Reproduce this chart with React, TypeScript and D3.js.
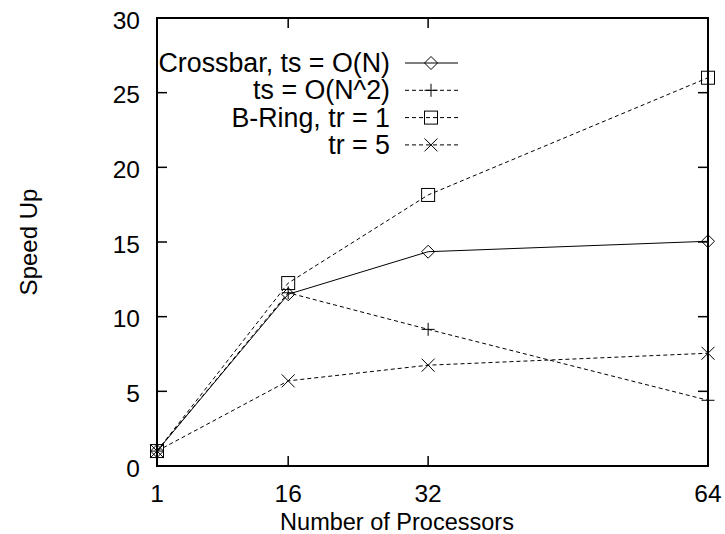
import * as d3 from "d3";

const processors = [1, 16, 32, 64];
const crossbarLinear = [1, 11.5, 14.35, 15.05];
const crossbarSquare = [1, 11.6, 9.15, 4.4];
const ringTr1 = [1, 12.25, 18.15, 26.0];
const ringTr5 = [1, 5.7, 6.75, 7.55];
const yTickValues = [0, 5, 10, 15, 20, 25, 30];
const seriesNames = ["Crossbar, ts = O(N)", "ts = O(N^2)", "B-Ring, tr = 1", "tr = 5"];

const width = 725,
  height = 534,
  left = 157,
  right = 708,
  top = 18,
  bottom = 466,
  tickLen = 10,
  font = "'Liberation Sans', Arial, Helvetica, sans-serif";

function Marker({ kind, x, y }: { kind: string; x: number; y: number }) {
  const s = 6.5;
  if (kind === "diamond")
    return (
      <path
        d={`M${x - s},${y}L${x},${y - s}L${x + s},${y}L${x},${y + s}Z`}
        fill="none"
        stroke="black"
        strokeWidth={1}
      />
    );
  if (kind === "plus")
    return (
      <path
        d={`M${x - s},${y}H${x + s}M${x},${y - s}V${y + s}`}
        stroke="black"
        strokeWidth={1}
      />
    );
  if (kind === "box")
    return (
      <rect
        x={x - s}
        y={y - s}
        width={2 * s}
        height={2 * s}
        fill="none"
        stroke="black"
        strokeWidth={1}
      />
    );
  return (
    <path
      d={`M${x - s},${y - s}L${x + s},${y + s}M${x - s},${y + s}L${x + s},${y - s}`}
      stroke="black"
      strokeWidth={1}
    />
  );
}

export default function App() {
  const xScale = d3.scaleLinear().domain([1, 64]).range([left, right]);
  const yScale = d3.scaleLinear().domain([0, 30]).range([bottom, top]);

  const series = [
    { name: seriesNames[0], values: crossbarLinear, marker: "diamond", dash: "none" },
    { name: seriesNames[1], values: crossbarSquare, marker: "plus", dash: "4,3" },
    { name: seriesNames[2], values: ringTr1, marker: "box", dash: "4,3" },
    { name: seriesNames[3], values: ringTr5, marker: "cross", dash: "4,3" },
  ];

  const line = d3
    .line<number>()
    .x((_, i) => xScale(processors[i]))
    .y((d) => yScale(d));

  const legendTextX = 390,
    legendLineX1 = 405,
    legendLineX2 = 458,
    legendMarkerX = 431,
    legendY0 = 63,
    legendStep = 27.3;

  return (
    <svg width={width} height={height} style={{ position: "absolute", left: 0, top: 0 }}>
      <rect width={width} height={height} fill="white" />
      {/* ticks */}
      {yTickValues.map((t) => (
        <g key={"y" + t}>
          <line x1={left} x2={left + tickLen} y1={yScale(t)} y2={yScale(t)} stroke="black" strokeWidth={1.5} />
          <line x1={right} x2={right - tickLen} y1={yScale(t)} y2={yScale(t)} stroke="black" strokeWidth={1.5} />
          <text
            x={140}
            y={yScale(t) + 2}
            textAnchor="end"
            dominantBaseline="central"
            fontFamily={font}
            fontSize={24.5}
          >
            {t}
          </text>
        </g>
      ))}
      {processors.map((p) => (
        <g key={"x" + p}>
          <line x1={xScale(p)} x2={xScale(p)} y1={bottom} y2={bottom - tickLen} stroke="black" strokeWidth={1.5} />
          <line x1={xScale(p)} x2={xScale(p)} y1={top} y2={top + tickLen} stroke="black" strokeWidth={1.5} />
          <text x={xScale(p)} y={502} textAnchor="middle" fontFamily={font} fontSize={24.5}>
            {p}
          </text>
        </g>
      ))}
      <rect
        x={left}
        y={top}
        width={right - left}
        height={bottom - top}
        fill="none"
        stroke="black"
        strokeWidth={2}
      />
      <text x={397} y={530} textAnchor="middle" fontFamily={font} fontSize={23.5}>
        Number of Processors
      </text>
      <text
        transform={`translate(37 ${(top + bottom) / 2}) rotate(-90)`}
        textAnchor="middle"
        fontFamily={font}
        fontSize={24}
      >
        Speed Up
      </text>
      {/* series */}
      {series.map((s) => (
        <g key={s.name}>
          <path d={line(s.values) ?? ""} fill="none" stroke="black" strokeWidth={1} strokeDasharray={s.dash} />
          {s.values.map((v, i) => (
            <Marker key={i} kind={s.marker} x={xScale(processors[i])} y={yScale(v)} />
          ))}
        </g>
      ))}
      {/* legend */}
      {series.map((s, i) => {
        const y = legendY0 + i * legendStep;
        return (
          <g key={"lg" + s.name}>
            <text
              x={legendTextX}
              y={y}
              textAnchor="end"
              dominantBaseline="central"
              fontFamily={font}
              fontSize={26.8}
            >
              {s.name}
            </text>
            <line x1={legendLineX1} x2={legendLineX2} y1={y} y2={y} stroke="black" strokeWidth={1} strokeDasharray={s.dash} />
            <Marker kind={s.marker} x={legendMarkerX} y={y} />
          </g>
        );
      })}
    </svg>
  );
}
